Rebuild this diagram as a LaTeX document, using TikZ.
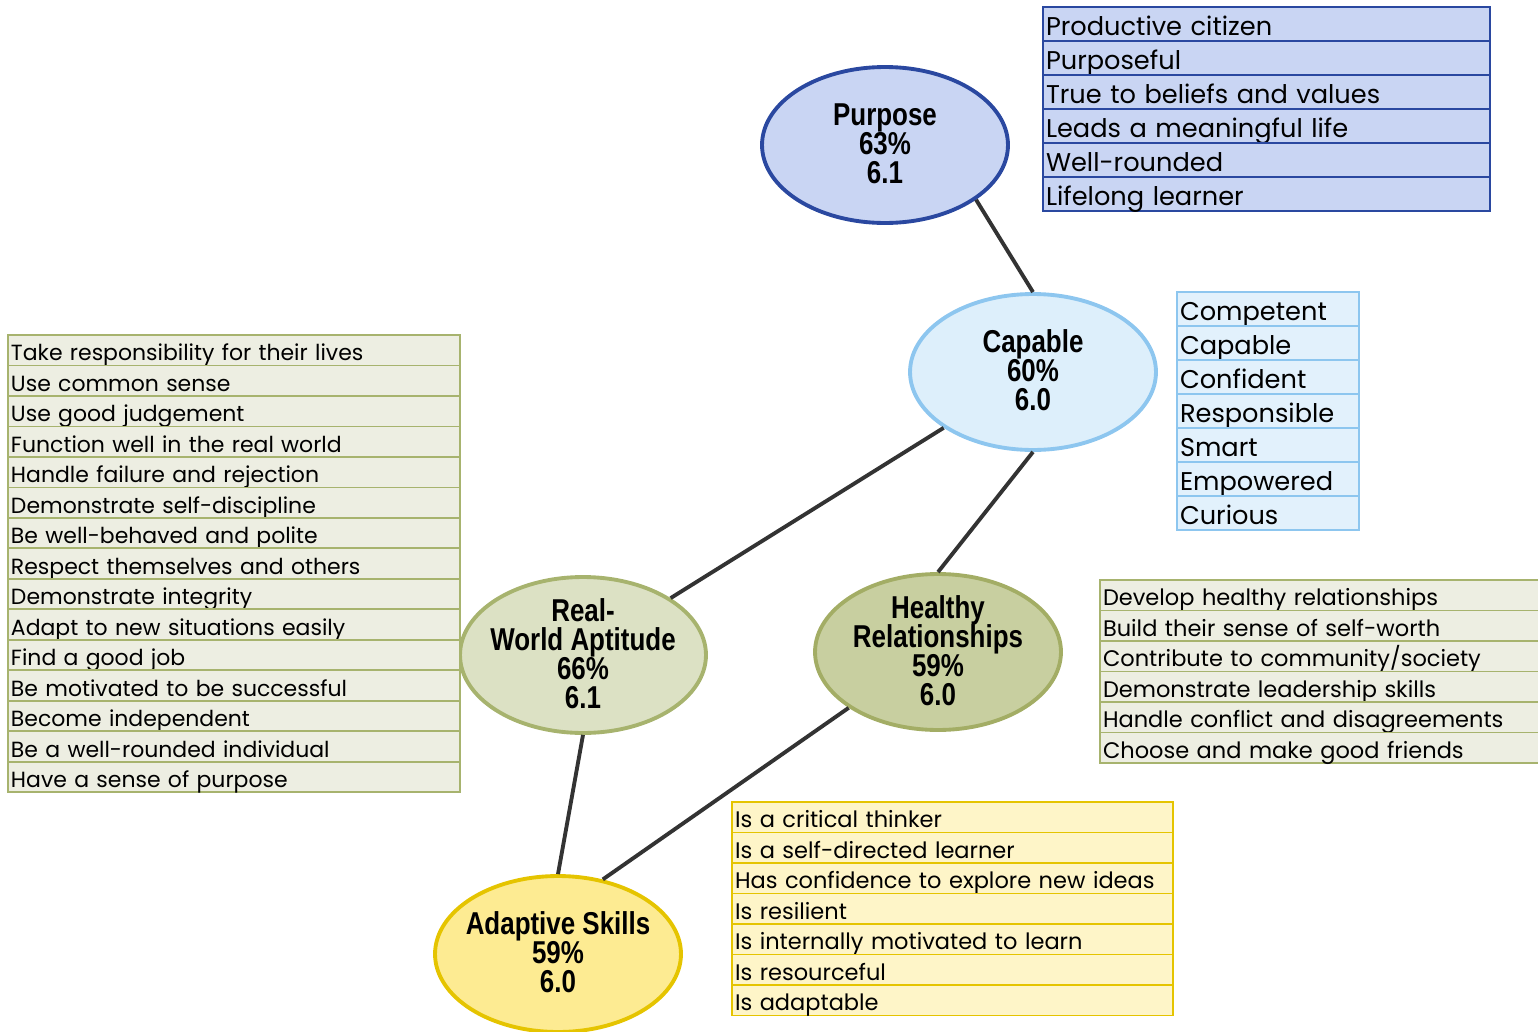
\documentclass[tikz,border=0pt]{standalone}
\usepackage{fontspec}
\setmainfont{Poppins}
\newfontfamily\headfont[FakeStretch=0.82]{Liberation Sans}
\usetikzlibrary{shapes.geometric,positioning}

\definecolor{purpfill}{HTML}{C9D5F3}
\definecolor{purpline}{HTML}{2A48A0}
\definecolor{capfill}{HTML}{DDEFFB}
\definecolor{capline}{HTML}{8DC6EF}
\definecolor{capcell}{HTML}{E2F1FC}
\definecolor{realfill}{HTML}{DCE1C4}
\definecolor{greenline}{HTML}{A7B36E}
\definecolor{healfill}{HTML}{C8CFA0}
\definecolor{healline}{HTML}{A3AD65}
\definecolor{greencell}{HTML}{EDEEE2}
\definecolor{adapfill}{HTML}{FDEB92}
\definecolor{adapline}{HTML}{E5C400}
\definecolor{adapcell}{HTML}{FEF5C8}
\definecolor{linkgray}{HTML}{333333}

% label of an oval, kept out of the oval's size
\newcommand{\ovaltext}[1]{\smash{\raisebox{-3.4pt}{\makebox[0pt]{$\vcenter{\baselineskip=16.5pt\lineskiplimit=-20pt\let\\\cr
    \halign{\hfil##\hfil\cr#1\crcr}}$}}}}

\begin{document}
\begin{tikzpicture}[
    x=0.02cm, y=-0.02cm,
    oval/.style={ellipse, line width=2.2pt, minimum width=4.92cm, minimum height=3.12cm, inner sep=0pt,
        font=\headfont\bfseries\fontsize{18}{16.5}\selectfont},
    link/.style={draw=linkgray, line width=2.2pt},
    cell/.style={rectangle, draw, outer sep=0pt, inner xsep=0.06cm, inner ysep=0pt, anchor=north west, align=left},
    bigcell/.style={cell, font=\fontsize{14.6}{14.6}\selectfont, minimum height=0.68cm, text height=16.4pt, text depth=2.88pt},
    smallcell/.style={cell, font=\fontsize{12.8}{12.8}\selectfont, minimum height=0.61cm, text height=14.7pt, text depth=2.59pt},
    purpcell/.style={bigcell, fill=purpfill, draw=purpline, line width=1.3pt, text width=8.82cm},
    capcell/.style={bigcell, fill=capcell, draw=capline, line width=1.1pt, text width=3.52cm},
    realcell/.style={smallcell, font=\fontsize{12.5}{12.5}\selectfont, fill=greencell, draw=greenline, line width=1.1pt, text width=8.92cm},
    healcell/.style={smallcell, fill=greencell, draw=greenline, line width=1.1pt, text width=8.72cm},
    adapcell/.style={smallcell, fill=adapcell, draw=adapline, line width=1.1pt, text width=8.70cm},
]
\useasboundingbox (0,0) rectangle (1538,1031);

% Outcome ovals
\node[oval, fill=purpfill, draw=purpline] (purpose) at (885,145) {\ovaltext{Purpose\\63\%\\6.1}};
\node[oval, fill=capfill, draw=capline] (capable) at (1033,372) {\ovaltext{Capable\\60\%\\6.0}};
\node[oval, fill=realfill, draw=greenline] (realworld) at (583,655) {\ovaltext{Real-\\World Aptitude\\66\%\\6.1}};
\node[oval, fill=healfill, draw=healline] (healthy) at (938,652) {\ovaltext{Healthy\\Relationships\\59\%\\6.0}};
\node[oval, fill=adapfill, draw=adapline] (adaptive) at (558,954) {\ovaltext{Adaptive Skills\\59\%\\6.0}};

% Links between ovals
\draw[link] (purpose.-31) -- (capable.north);
\draw[link] (capable.212) -- (realworld.33);
\draw[link] (capable.south) -- (healthy.north);
\draw[link] (realworld.south) -- (adaptive.north);
\draw[link] (healthy.212) -- (adaptive.59);

% Purpose list
\node[purpcell] (p1) at (1043,7) {Productive citizen};
\node[purpcell, below=0pt of p1] (p2) {Purposeful};
\node[purpcell, below=0pt of p2] (p3) {True to beliefs and values};
\node[purpcell, below=0pt of p3] (p4) {Leads a meaningful life};
\node[purpcell, below=0pt of p4] (p5) {Well-rounded};
\node[purpcell, below=0pt of p5] (p6) {Lifelong learner};

% Capable list
\node[capcell] (c1) at (1177,292) {Competent};
\node[capcell, below=0pt of c1] (c2) {Capable};
\node[capcell, below=0pt of c2] (c3) {Confident};
\node[capcell, below=0pt of c3] (c4) {Responsible};
\node[capcell, below=0pt of c4] (c5) {Smart};
\node[capcell, below=0pt of c5] (c6) {Empowered};
\node[capcell, below=0pt of c6] (c7) {Curious};

% Real-world aptitude list
\node[realcell] (r1) at (8,335) {Take responsibility for their lives};
\node[realcell, below=0pt of r1] (r2) {Use common sense};
\node[realcell, below=0pt of r2] (r3) {Use good judgement};
\node[realcell, below=0pt of r3] (r4) {Function well in the real world};
\node[realcell, below=0pt of r4] (r5) {Handle failure and rejection};
\node[realcell, below=0pt of r5] (r6) {Demonstrate self-discipline};
\node[realcell, below=0pt of r6] (r7) {Be well-behaved and polite};
\node[realcell, below=0pt of r7] (r8) {Respect themselves and others};
\node[realcell, below=0pt of r8] (r9) {Demonstrate integrity};
\node[realcell, below=0pt of r9] (r10) {Adapt to new situations easily};
\node[realcell, below=0pt of r10] (r11) {Find a good job};
\node[realcell, below=0pt of r11] (r12) {Be motivated to be successful};
\node[realcell, below=0pt of r12] (r13) {Become independent};
\node[realcell, below=0pt of r13] (r14) {Be a well-rounded individual};
\node[realcell, below=0pt of r14] (r15) {Have a sense of purpose};

% Healthy relationships list
\node[healcell] (h1) at (1100,580) {Develop healthy relationships};
\node[healcell, below=0pt of h1] (h2) {Build their sense of self-worth};
\node[healcell, below=0pt of h2] (h3) {Contribute to community/society};
\node[healcell, below=0pt of h3] (h4) {Demonstrate leadership skills};
\node[healcell, below=0pt of h4] (h5) {Handle conflict and disagreements};
\node[healcell, below=0pt of h5] (h6) {Choose and make good friends};

% Adaptive skills list
\node[adapcell] (a1) at (732,802) {Is a critical thinker};
\node[adapcell, below=0pt of a1] (a2) {Is a self-directed learner};
\node[adapcell, below=0pt of a2] (a3) {Has confidence to explore new ideas};
\node[adapcell, below=0pt of a3] (a4) {Is resilient};
\node[adapcell, below=0pt of a4] (a5) {Is internally motivated to learn};
\node[adapcell, below=0pt of a5] (a6) {Is resourceful};
\node[adapcell, below=0pt of a6] (a7) {Is adaptable};

\end{tikzpicture}
\end{document}
